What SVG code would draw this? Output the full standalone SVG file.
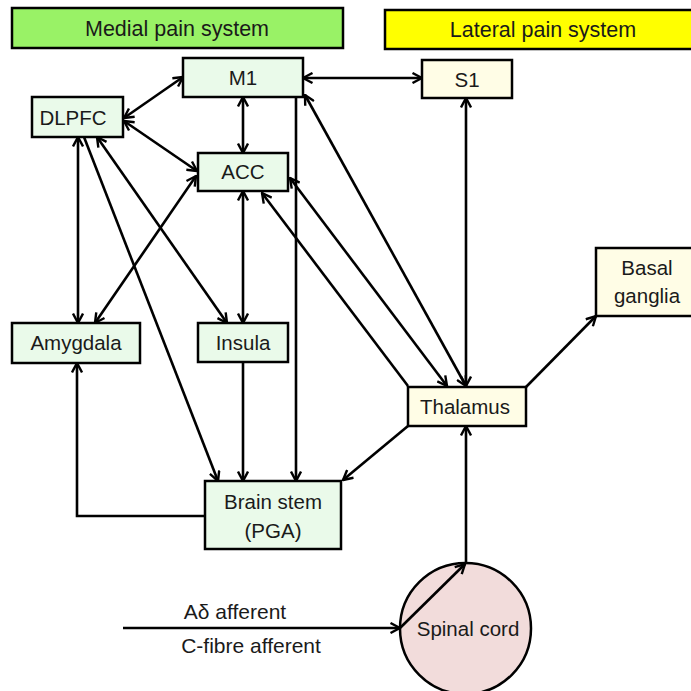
<svg xmlns="http://www.w3.org/2000/svg" width="691" height="691" viewBox="0 0 691 691">
<defs>
<marker id="ah" viewBox="0 0 12 12" refX="11" refY="6" markerWidth="12" markerHeight="12" markerUnits="userSpaceOnUse" orient="auto-start-reverse">
<path d="M1.5,1 L11,6 L1.5,11" fill="none" stroke="#000" stroke-width="2.4" stroke-linejoin="miter"/>
</marker>
<style>
text{font-family:"Liberation Sans",Arial,sans-serif;fill:#1a1a1a;text-anchor:middle}
.hdr{font-size:21.5px}
.lbl{font-size:20.5px}
.aff{font-size:21px}
.box{stroke:#000;stroke-width:2.5}
.g{fill:#EAFAEA}
.y{fill:#FFFDE6}
.c{fill:none;stroke:#000;stroke-width:2.6}
.b{marker-start:url(#ah);marker-end:url(#ah)}
.e{marker-end:url(#ah)}
</style>
</defs>
<rect width="691" height="691" fill="#fff"/>
<g id="medial">
<rect class="box" x="12" y="8" width="331" height="40" fill="#99F266"/>
<text class="hdr" x="177" y="36">Medial pain system</text>
</g>
<g id="lateral">
<rect class="box" x="385" y="10" width="320" height="39" fill="#FFFF00"/>
<text class="hdr" x="543" y="37">Lateral pain system</text>
</g>
<g id="connectors">
<path class="c b" d="M303,78 L422,78"/>
<path class="c b" d="M124,118 L183,77"/>
<path class="c b" d="M243,97 L243,153"/>
<path class="c b" d="M124,121 L197,171"/>
<path class="c e" d="M296,97 L296,481"/>
<path class="c b" d="M305,95 L466,386"/>
<path class="c b" d="M290,178 L447,386"/>
<path class="c e" d="M408,386 L262,193"/>
<path class="c b" d="M466,98 L466,386"/>
<path class="c b" d="M78,137 L78,323"/>
<path class="c e" d="M84,137 L218,481"/>
<path class="c b" d="M97,137 L227,323"/>
<path class="c b" d="M196,176 L95,323"/>
<path class="c b" d="M243,191 L243,323"/>
<path class="c e" d="M243,362 L243,481"/>
<path class="c e" d="M205,516 L77,516 L77,363"/>
<path class="c e" d="M408,426 L343,480"/>
<path class="c e" d="M526,387 L596,316"/>
<path class="c e" d="M466,563 L466,426"/>
<path class="c e" d="M123,628 L400,628"/>
</g>
<g id="spinal">
<circle class="box" cx="465.5" cy="628.5" r="65.5" fill="#F2DCDB"/>
<text class="lbl" x="468" y="636">Spinal cord</text>
</g>
<g id="afferent-inner">
<path class="c e" d="M400,628 L465,564"/>
</g>
<g id="m1">
<rect class="box g" x="183" y="58" width="120" height="39"/>
<text class="lbl" x="243" y="85">M1</text>
</g>
<g id="dlpfc">
<rect class="box g" x="32" y="97" width="91" height="40"/>
<text class="lbl" x="73" y="125">DLPFC</text>
</g>
<g id="acc">
<rect class="box g" x="198" y="153" width="90" height="38"/>
<text class="lbl" x="243" y="179">ACC</text>
</g>
<g id="s1">
<rect class="box y" x="422" y="60" width="90" height="38"/>
<text class="lbl" x="467" y="87">S1</text>
</g>
<g id="amygdala">
<rect class="box g" x="12" y="323" width="128" height="40"/>
<text class="lbl" x="76" y="350">Amygdala</text>
</g>
<g id="insula">
<rect class="box g" x="198" y="323" width="90" height="39"/>
<text class="lbl" x="243" y="350">Insula</text>
</g>
<g id="basal">
<rect class="box y" x="596" y="248" width="110" height="68"/>
<text class="lbl" x="647" y="275">Basal</text>
<text class="lbl" x="647" y="303">ganglia</text>
</g>
<g id="thalamus">
<rect class="box y" x="408" y="387" width="118" height="39"/>
<text class="lbl" x="465" y="414">Thalamus</text>
</g>
<g id="brainstem">
<rect class="box g" x="205" y="481" width="136" height="68"/>
<text class="lbl" x="273" y="509">Brain stem</text>
<text class="lbl" x="273" y="538">(PGA)</text>
</g>
<g id="labels">
<text class="aff" x="235" y="619">Aδ afferent</text>
<text class="aff" x="251" y="653">C-fibre afferent</text>
</g>
</svg>
